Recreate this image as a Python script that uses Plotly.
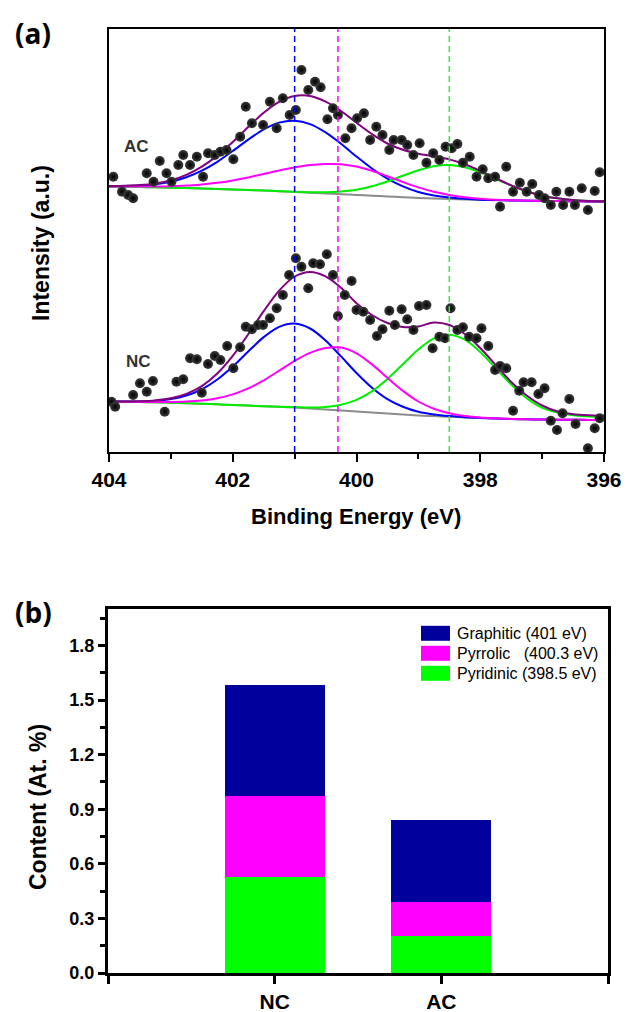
import plotly.graph_objects as go

# ---------------- data: XPS N1s spectra (panel a) ----------------
energy = [404.0, 403.75, 403.5, 403.25, 403.0, 402.75, 402.5, 402.25, 402.0, 401.75, 401.5,
          401.25, 401.0, 400.75, 400.5, 400.25, 400.0, 399.75, 399.5, 399.25, 399.0, 398.75,
          398.5, 398.25, 398.0, 397.75, 397.5, 397.25, 397.0, 396.75, 396.5, 396.25, 396.0]

ac_background = [265.5, 265.3, 265.0, 264.7, 264.3, 263.9, 263.5, 263.0, 262.5, 262.0, 261.5,
                 260.8, 260.0, 259.3, 258.5, 257.8, 257.0, 256.3, 255.5, 254.8, 254.0, 253.5,
                 253.0, 252.5, 252.0, 251.8, 251.5, 251.3, 251.0, 250.9, 250.7, 250.6, 250.5]
ac_graphitic = [265.8, 266.0, 266.5, 267.8, 270.3, 274.7, 281.3, 290.2, 301.0, 312.4, 322.6,
                329.4, 331.3, 327.9, 319.6, 308.2, 295.5, 283.5, 273.3, 265.6, 260.0, 256.6,
                254.5, 253.2, 252.3, 251.9, 251.5, 251.3, 251.0, 250.9, 250.7, 250.6, 250.5]
ac_pyrrolic = [265.6, 265.5, 265.4, 265.5, 265.8, 266.4, 267.6, 269.2, 271.6, 274.6, 278.1,
               281.5, 284.5, 286.9, 288.0, 287.8, 285.4, 281.2, 275.7, 270.0, 264.6, 260.3,
               257.1, 254.7, 253.2, 252.3, 251.7, 251.4, 251.0, 250.9, 250.7, 250.6, 250.5]
ac_pyridinic = [265.5, 265.3, 265.0, 264.7, 264.3, 263.9, 263.5, 263.0, 262.5, 262.0, 261.5,
                260.8, 260.2, 259.8, 259.8, 260.6, 262.3, 265.7, 270.5, 276.2, 281.7, 285.8,
                287.0, 284.8, 279.7, 273.2, 266.5, 260.7, 256.3, 253.7, 252.0, 251.1, 250.7]
ac_envelope = [265.9, 266.2, 266.9, 268.6, 271.8, 277.2, 285.4, 296.4, 310.1, 325.0, 339.2,
               350.1, 356.0, 356.0, 350.4, 341.0, 329.2, 317.8, 308.5, 302.2, 298.3, 295.7,
               292.6, 287.7, 281.2, 273.8, 266.7, 260.8, 256.3, 253.7, 252.0, 251.1, 250.7]

nc_background = [50.5, 50.3, 50.0, 49.7, 49.3, 48.8, 48.3, 47.7, 47.0, 46.4, 45.8,
                 45.2, 44.5, 43.5, 42.5, 41.5, 40.5, 39.5, 38.5, 37.5, 36.5, 35.9,
                 35.3, 34.6, 34.0, 33.5, 33.0, 32.7, 32.5, 32.3, 32.2, 32.1, 32.0]
nc_graphitic = [50.6, 50.5, 50.6, 51.3, 53.0, 56.5, 62.7, 72.5, 85.5, 100.5, 114.9,
                125.2, 128.5, 123.5, 111.6, 95.6, 79.0, 64.3, 52.9, 45.2, 40.2, 37.5,
                35.9, 34.8, 34.1, 33.5, 33.0, 32.7, 32.5, 32.3, 32.2, 32.1, 32.0]
nc_pyrrolic = [50.5, 50.3, 50.1, 50.0, 50.0, 50.4, 51.5, 53.7, 57.6, 63.6, 71.7,
               81.3, 91.1, 99.1, 104.0, 104.4, 98.6, 87.6, 74.2, 61.1, 50.5, 43.3,
               38.8, 36.1, 34.6, 33.7, 33.1, 32.7, 32.5, 32.3, 32.2, 32.1, 32.0]
nc_pyridinic = [50.5, 50.3, 50.0, 49.7, 49.3, 48.8, 48.3, 47.7, 47.0, 46.4, 45.8,
                45.3, 44.9, 44.5, 45.1, 47.3, 52.2, 60.7, 73.0, 87.8, 102.5, 113.6,
                117.3, 112.3, 100.0, 83.8, 67.5, 53.9, 44.2, 39.5, 36.8, 35.6, 35.2]
nc_envelope = [50.6, 50.6, 50.8, 51.6, 53.7, 58.1, 65.9, 78.5, 96.1, 117.7, 140.8,
               161.4, 175.5, 180.1, 175.7, 164.3, 148.8, 137.0, 129.0, 125.0, 125.5, 129.5,
               127.0, 118.0, 104.0, 87.0, 70.0, 56.5, 46.5, 40.5, 37.8, 36.8, 36.5]

ac_dot_energy = [403.93, 403.79, 403.69, 403.61, 403.39, 403.28, 403.18, 403.07, 402.99, 402.88,
                 402.80, 402.69, 402.58, 402.48, 402.40, 402.29, 402.20, 402.10, 401.99, 401.88,
                 401.79, 401.69, 401.51, 401.40, 401.29, 401.19, 401.08, 400.98, 400.89, 400.78,
                 400.67, 400.58, 400.47, 400.38, 400.30, 400.18, 400.08, 399.99, 399.88, 399.78,
                 399.68, 399.58, 399.47, 399.40, 399.27, 399.18, 399.08, 398.98, 398.87, 398.76,
                 398.66, 398.56, 398.46, 398.37, 398.28, 398.17, 398.06, 397.96, 397.87, 397.76,
                 397.68, 397.58, 397.47, 397.36, 397.25, 397.16, 397.05, 396.96, 396.86, 396.77,
                 396.66, 396.56, 396.47, 396.36, 396.26, 396.15, 396.07]
ac_dot_intensity = [275.3, 260.3, 257.0, 253.7, 278.7, 270.3, 291.0, 278.7, 270.3, 287.0,
                    297.0, 287.0, 295.3, 275.3, 298.7, 297.0, 300.3, 302.0, 292.7, 315.3,
                    345.3, 328.7, 327.0, 350.3, 323.7, 353.7, 337.0, 342.0, 382.0, 362.0,
                    370.3, 364.7, 332.7, 343.7, 337.0, 313.7, 323.7, 333.7, 338.7, 312.0,
                    325.3, 317.0, 302.0, 312.0, 312.0, 307.0, 297.0, 308.7, 289.3, 298.7,
                    292.0, 305.3, 303.7, 308.0, 289.3, 295.3, 275.3, 282.7, 273.7, 275.3,
                    245.3, 285.3, 260.3, 269.3, 260.3, 268.0, 257.0, 253.7, 247.0, 260.3,
                    247.0, 260.3, 247.0, 263.7, 242.0, 261.0, 279.7]

nc_dot_energy = [403.96, 403.90, 403.61, 403.50, 403.39, 403.29, 403.10, 402.91, 402.80, 402.69,
                 402.58, 402.50, 402.40, 402.29, 402.20, 402.09, 401.99, 401.88, 401.79, 401.69,
                 401.59, 401.51, 401.40, 401.29, 401.19, 401.09, 400.98, 400.89, 400.78, 400.70,
                 400.59, 400.48, 400.38, 400.30, 400.19, 400.08, 400.00, 399.89, 399.78, 399.67,
                 399.58, 399.47, 399.38, 399.27, 399.18, 399.08, 398.99, 398.87, 398.77, 398.66,
                 398.57, 398.48, 398.37, 398.28, 398.18, 398.06, 397.98, 397.87, 397.76, 397.68,
                 397.58, 397.47, 397.37, 397.30, 397.17, 397.06, 396.96, 396.86, 396.76, 396.67,
                 396.56, 396.46, 396.26, 396.15, 396.07]
nc_dot_intensity = [50.3, 45.3, 57.0, 68.7, 60.3, 71.0, 40.3, 70.3, 72.7, 93.7,
                    92.7, 59.3, 88.0, 96.0, 92.0, 106.0, 83.7, 104.7, 125.3, 122.7,
                    127.0, 127.0, 133.7, 143.7, 157.0, 177.0, 193.7, 185.3, 163.7, 188.7,
                    187.7, 197.7, 177.0, 136.0, 157.0, 171.0, 142.0, 140.3, 132.0, 116.0,
                    122.7, 141.3, 127.0, 142.7, 132.7, 122.0, 146.0, 147.0, 103.7, 115.3,
                    113.7, 143.7, 122.0, 124.7, 115.3, 113.7, 123.7, 106.0, 82.0, 86.0,
                    83.7, 41.3, 61.3, 69.7, 69.7, 58.0, 63.7, 31.3, 22.0, 38.7,
                    53.0, 28.0, 3.7, 23.7, 33.7]

peak_positions = [401.0, 400.3, 398.5]
energy_ticks = [404, 402, 400, 398, 396]
energy_minor_ticks = [403, 401, 399, 397]

# ---------------- data: nitrogen content (panel b) ----------------
categories = ["NC", "AC"]
pyridinic = [0.530, 0.206]
pyrrolic = [0.444, 0.185]
graphitic = [0.606, 0.450]
species_labels = ["Graphitic (401 eV)", "Pyrrolic\u00a0\u00a0\u00a0(400.3 eV)", "Pyridinic (398.5 eV)"]
content_ticks = [0.0, 0.3, 0.6, 0.9, 1.2, 1.5, 1.8]
content_minor_ticks = [0.15, 0.45, 0.75, 1.05, 1.35, 1.65, 1.95]

# ---------------- styles ----------------
W, H = 626, 1012
C_GRAY, C_BLUE, C_MAG, C_GREEN, C_PURPLE = "#8c8c8c", "#0000ff", "#ff00ff", "#00ee00", "#800080"
C_NAVY = "#00009c"
FONT = "Liberation Sans, Arial, sans-serif"


def fx(p):
    return p / W


def fy(p):
    return 1 - p / H


fig = go.Figure()

for bg, gr, pr, py_, env in [
    (ac_background, ac_graphitic, ac_pyrrolic, ac_pyridinic, ac_envelope),
    (nc_background, nc_graphitic, nc_pyrrolic, nc_pyridinic, nc_envelope),
]:
    for vals, col in [(bg, C_GRAY), (gr, C_BLUE), (py_, C_GREEN), (pr, C_MAG), (env, C_PURPLE)]:
        fig.add_trace(go.Scatter(x=energy, y=vals, mode="lines", xaxis="x", yaxis="y",
                                 line=dict(color=col, width=2, shape="spline", smoothing=0.8),
                                 showlegend=False, hoverinfo="skip"))

for ex, iy in [(ac_dot_energy, ac_dot_intensity), (nc_dot_energy, nc_dot_intensity)]:
    fig.add_trace(go.Scatter(x=ex, y=iy, mode="markers", xaxis="x", yaxis="y",
                             marker=dict(size=10, color="#3c3c3c",
                                         gradient=dict(type="radial", color="#000000"),
                                         line=dict(width=0)),
                             showlegend=False, hoverinfo="skip"))

xpos = list(range(len(categories)))
for vals, col in [(pyridinic, "#00ff00"), (pyrrolic, "#ff00ff"), (graphitic, C_NAVY)]:
    fig.add_trace(go.Bar(x=xpos, y=vals, width=0.6, xaxis="x2", yaxis="y2",
                         marker=dict(color=col, line=dict(width=0)), showlegend=False))

shapes = []
for pos, col in zip(peak_positions, [C_BLUE, C_MAG, "#33ee33"]):
    shapes.append(dict(type="line", xref="x", yref="y domain", x0=pos, x1=pos, y0=0, y1=1,
                       line=dict(color=col, width=1.5, dash="6px,4px")))

annotations = []
legend_rows = [633.3, 653.3, 673.3]
for lab, col, yc in zip(species_labels, [C_NAVY, "#ff00ff", "#00ff00"], legend_rows):
    shapes.append(dict(type="rect", xref="paper", yref="paper", x0=fx(421), x1=fx(450),
                       y0=fy(yc + 7.5), y1=fy(yc - 7.5), fillcolor=col, line=dict(width=0)))
    annotations.append(dict(x=fx(455), y=fy(yc), xref="paper", yref="paper", text=lab,
                            showarrow=False, xanchor="left", yanchor="middle",
                            font=dict(family=FONT, size=16, color="black")))


def label(text, x, y, size, angle=0, family=FONT, color="black"):
    annotations.append(dict(x=fx(x), y=fy(y), xref="paper", yref="paper", text=text,
                            showarrow=False, xanchor="center", yanchor="middle", textangle=angle,
                            font=dict(family=family, size=size, color=color, weight="bold")))


label("(a)", 33, 33, 28, family="Open Sans, sans-serif")
label("(b)", 33, 612, 28, family="Open Sans, sans-serif")
label("Intensity (a.u.)", 41, 243, 23, angle=-90)
label("Binding Energy (eV)", 356, 516, 22)
label("Content (At. %)", 38, 807, 23, angle=-90)
label("AC", 136, 146, 17, color="#333333")
label("NC", 138, 362, 17, color="#333333")

fig.update_layout(
    width=W, height=H, margin=dict(l=0, r=0, t=0, b=0, autoexpand=False),
    paper_bgcolor="white", plot_bgcolor="white", barmode="stack",
    shapes=shapes, annotations=annotations,
    xaxis=dict(domain=[fx(109), fx(604)], anchor="y", range=[404, 396], automargin=False,
               tickmode="array", tickvals=energy_ticks, ticks="outside", ticklen=8, tickwidth=2,
               tickcolor="black", showline=True, linewidth=2, linecolor="black", mirror=True,
               showgrid=False, zeroline=False,
               minor=dict(tickmode="array", tickvals=energy_minor_ticks, ticks="outside",
                          ticklen=5, tickwidth=2, tickcolor="black", showgrid=False),
               tickfont=dict(family=FONT, size=21, color="black", weight="bold")),
    yaxis=dict(domain=[fy(452), fy(29)], anchor="x", range=[0, 423], showticklabels=False,
               automargin=False,
               ticks="", showline=True, linewidth=2, linecolor="black", mirror=True,
               showgrid=False, zeroline=False),
    xaxis2=dict(domain=[fx(108), fx(608)], anchor="y2", range=[-1, 2], automargin=False,
                tickmode="array", tickvals=[-1, 0, 1, 2], ticktext=[""] + categories + [""],
                ticks="outside", ticklen=8, tickwidth=3, tickcolor="black",
                showline=True, linewidth=3, linecolor="black", mirror=True,
                showgrid=False, zeroline=False,
                tickfont=dict(family=FONT, size=21, color="black", weight="bold")),
    yaxis2=dict(domain=[fy(973), fy(609)], anchor="x2", range=[0, 2.0], automargin=False,
                tickmode="array", tickvals=content_ticks, tickformat=".1f",
                ticks="outside", ticklen=7, tickwidth=2.5, tickcolor="black",
                showline=True, linewidth=3, linecolor="black", mirror=True,
                showgrid=False, zeroline=False,
                minor=dict(tickmode="array", tickvals=content_minor_ticks, ticks="outside",
                           ticklen=5, tickwidth=2.5, tickcolor="black", showgrid=False),
                tickfont=dict(family=FONT, size=18, color="black", weight="bold")),
)

fig.write_html("out.html")
